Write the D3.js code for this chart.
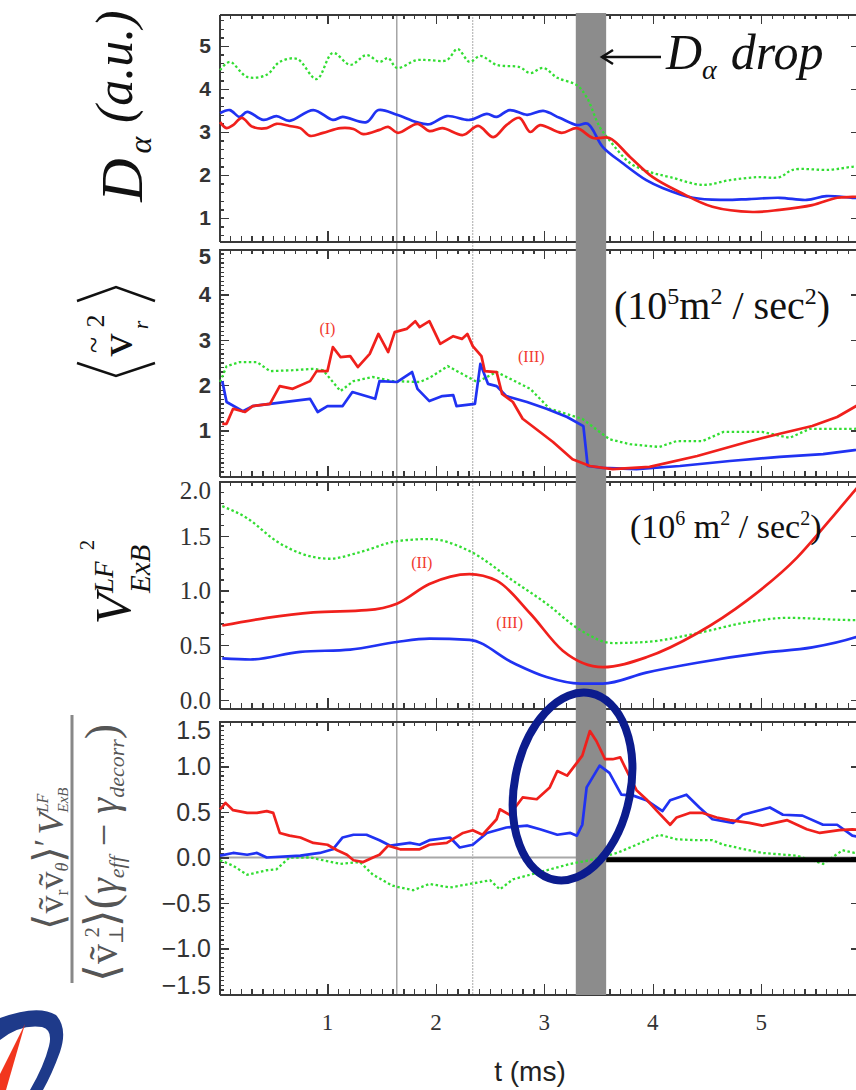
<!DOCTYPE html>
<html lang="en">
<head>
  <meta charset="utf-8">
  <title>D-alpha drop</title>
  <script src="https://cdn.jsdelivr.net/npm/d3@7"></script>
  <style>
    body { margin: 0; background: #fff; }
    .axis path, .axis line { stroke: #3a3a3a; shape-rendering: crispEdges; }
    .axis path { stroke-width: 2; }
    .axis line { stroke-width: 1.3; }
    .red { fill: none; stroke: #f0201c; stroke-width: 2.7; stroke-linejoin: round; }
    .blue { fill: none; stroke: #2032f2; stroke-width: 2.7; stroke-linejoin: round; }
    .green { fill: none; stroke: #33dd33; stroke-width: 2.3; stroke-dasharray: 2.5, 2.5; }
    text.lab-sans { font-family: "Liberation Sans", Arial, sans-serif; }
    text.lab-serif { font-family: "Liberation Serif", "Times New Roman", serif; }
  </style>
</head>
<body>
<script>

// ---- ticks / events ----
var tTicks = [1, 2, 3, 4, 5];
var daTicks = [1, 2, 3, 4, 5];
var v2Ticks = [1, 2, 3, 4, 5];
var vexbTicks = [0, 0.5, 1, 1.5, 2];
var ratioTicks = [-1.5, -1, -0.5, 0, 0.5, 1, 1.5];
var dropBand = [3.29, 3.57];
var markerTimes = [1.64, 2.34];

// ---- panel 1: D alpha ----
var daRed = [[0.01,3.23],[0.07,3.09],[0.13,3.16],[0.21,3.33],[0.31,3.12],[0.44,3.09],[0.53,3.19],[0.65,3.14],[0.75,3.09],[0.84,2.91],[0.96,2.98],[1.12,3.09],[1.24,3.07],[1.33,2.95],[1.48,3.05],[1.56,3.12],[1.65,2.98],[1.83,3.19],[1.94,3.02],[2.06,3.09],[2.25,2.93],[2.39,3.14],[2.53,2.88],[2.65,3.16],[2.77,3.33],[2.87,3.0],[2.96,3.16],[3.16,2.98],[3.30,3.09],[3.45,2.86],[3.60,2.86],[3.79,2.42],[4.00,1.95],[4.25,1.60],[4.55,1.26],[4.92,1.14],[5.17,1.19],[5.47,1.30],[5.70,1.47],[5.84,1.49],[5.92,1.50]];
var daBlue = [[0.01,3.44],[0.10,3.51],[0.19,3.35],[0.26,3.47],[0.41,3.28],[0.53,3.37],[0.65,3.26],[0.87,3.51],[1.05,3.28],[1.14,3.35],[1.36,3.23],[1.47,3.51],[1.64,3.40],[1.82,3.23],[1.94,3.18],[2.10,3.37],[2.31,3.28],[2.47,3.42],[2.56,3.35],[2.68,3.51],[2.84,3.40],[2.99,3.49],[3.14,3.33],[3.30,3.16],[3.40,3.19],[3.54,2.65],[3.72,2.28],[3.94,1.88],[4.09,1.70],[4.37,1.47],[4.65,1.42],[4.89,1.44],[5.17,1.47],[5.42,1.42],[5.60,1.51],[5.84,1.47],[5.92,1.47]];
var daGreen = [[0.01,4.44],[0.10,4.63],[0.26,4.28],[0.44,4.33],[0.56,4.63],[0.72,4.70],[0.90,4.23],[1.05,4.84],[1.21,4.56],[1.36,4.79],[1.48,4.63],[1.56,4.72],[1.64,4.49],[1.82,4.67],[1.94,4.67],[2.10,4.67],[2.20,4.93],[2.31,4.63],[2.41,4.77],[2.56,4.56],[2.77,4.51],[2.87,4.37],[2.99,4.49],[3.12,4.26],[3.30,4.09],[3.39,3.81],[3.51,3.12],[3.60,2.81],[3.79,2.28],[3.97,2.07],[4.16,1.95],[4.46,1.77],[4.71,1.88],[4.96,1.95],[5.17,1.95],[5.29,2.12],[5.63,2.12],[5.84,2.19],[5.92,2.20]];

// ---- panel 2: <v_r^2> ----
var v2Red = [[0.03,1.15],[0.07,1.15],[0.13,1.48],[0.24,1.41],[0.31,1.54],[0.47,1.59],[0.56,1.98],[0.68,1.92],[0.84,2.09],[0.90,2.31],[1.00,2.31],[1.05,2.84],[1.12,2.62],[1.21,2.64],[1.28,2.40],[1.39,2.69],[1.47,3.13],[1.56,2.73],[1.62,3.17],[1.73,3.24],[1.81,3.41],[1.85,3.28],[1.94,3.41],[2.04,2.91],[2.16,3.08],[2.24,3.02],[2.29,3.13],[2.34,2.86],[2.42,2.64],[2.45,2.31],[2.56,2.29],[2.61,1.81],[2.71,1.63],[2.80,1.26],[2.96,0.97],[3.08,0.75],[3.26,0.37],[3.42,0.22],[3.63,0.15],[3.97,0.20],[4.41,0.44],[4.87,0.75],[5.17,0.93],[5.47,1.10],[5.70,1.30],[5.86,1.52],[5.92,1.60]];
var v2Blue = [[0.03,2.09],[0.07,1.63],[0.22,1.43],[0.31,1.54],[0.84,1.70],[0.91,1.41],[1.00,1.54],[1.14,1.54],[1.23,1.85],[1.44,1.70],[1.48,2.09],[1.64,2.07],[1.78,2.29],[1.83,1.92],[1.94,1.65],[2.06,1.76],[2.16,1.78],[2.19,1.54],[2.36,1.59],[2.41,2.47],[2.48,2.03],[2.56,1.98],[2.65,1.76],[2.84,1.63],[3.02,1.48],[3.21,1.30],[3.36,1.10],[3.40,0.22],[3.54,0.18],[3.85,0.15],[4.25,0.22],[4.71,0.33],[5.17,0.42],[5.57,0.48],[5.86,0.57],[5.92,0.58]];
var v2Green = [[0.01,2.07],[0.07,2.42],[0.19,2.51],[0.35,2.51],[0.47,2.31],[0.68,2.33],[0.87,2.36],[0.96,2.33],[1.12,1.87],[1.24,2.09],[1.42,2.18],[1.60,2.09],[1.85,2.07],[1.94,2.16],[2.11,2.42],[2.38,2.07],[2.56,2.29],[2.87,1.92],[3.05,1.48],[3.35,1.26],[3.60,0.81],[3.79,0.70],[4.06,0.64],[4.22,0.77],[4.46,0.77],[4.65,0.97],[5.01,0.97],[5.26,0.84],[5.45,1.04],[5.86,1.04],[5.92,1.05]];

// ---- panel 3: V_ExB^LF^2 ----
var vexbRed = [[0.03,0.68],[0.44,0.75],[0.87,0.80],[1.36,0.82],[1.64,0.88],[1.94,1.06],[2.31,1.15],[2.56,1.09],[2.87,0.79],[3.17,0.45],[3.54,0.30],[3.94,0.39],[4.41,0.61],[4.87,0.91],[5.33,1.30],[5.63,1.64],[5.86,1.91],[5.92,1.98]];
var vexbBlue = [[0.03,0.38],[0.29,0.37],[0.75,0.44],[1.21,0.46],[1.64,0.53],[1.94,0.56],[2.31,0.55],[2.71,0.34],[3.02,0.21],[3.33,0.15],[3.54,0.15],[3.94,0.25],[4.41,0.34],[5.01,0.43],[5.47,0.48],[5.86,0.57],[5.92,0.59]];
var vexbGreen = [[0.03,1.77],[0.26,1.66],[0.53,1.45],[0.75,1.34],[1.02,1.29],[1.30,1.35],[1.64,1.45],[1.94,1.47],[2.31,1.36],[2.71,1.09],[3.02,0.88],[3.33,0.64],[3.63,0.52],[3.94,0.53],[4.41,0.61],[4.87,0.71],[5.24,0.75],[5.86,0.73],[5.92,0.73]];

// ---- panel 4: normalised ratio ----
var ratioRed = [[0.01,0.53],[0.06,0.60],[0.13,0.52],[0.26,0.49],[0.35,0.49],[0.44,0.51],[0.50,0.49],[0.56,0.27],[0.65,0.24],[0.75,0.22],[0.87,0.16],[1.00,0.14],[1.09,0.08],[1.18,0.03],[1.24,-0.03],[1.33,-0.05],[1.42,0.0],[1.48,0.03],[1.56,0.13],[1.67,0.09],[1.85,0.09],[1.94,0.14],[2.10,0.16],[2.25,0.27],[2.34,0.30],[2.43,0.25],[2.56,0.42],[2.59,0.53],[2.68,0.47],[2.80,0.66],[2.93,0.64],[3.05,0.77],[3.12,0.95],[3.21,0.90],[3.30,1.04],[3.35,1.12],[3.42,1.39],[3.48,1.28],[3.56,1.08],[3.63,1.08],[3.70,1.10],[3.79,0.88],[3.85,0.74],[3.94,0.64],[4.04,0.51],[4.16,0.36],[4.22,0.44],[4.34,0.49],[4.46,0.49],[4.59,0.44],[4.71,0.41],[4.89,0.38],[5.01,0.35],[5.24,0.41],[5.42,0.31],[5.54,0.27],[5.72,0.30],[5.84,0.31],[5.92,0.30]];
var ratioBlue = [[0.01,0.02],[0.13,0.05],[0.26,0.03],[0.35,0.05],[0.44,0.0],[0.75,0.02],[0.93,0.05],[1.05,0.09],[1.14,0.22],[1.24,0.25],[1.36,0.25],[1.48,0.19],[1.58,0.13],[1.76,0.16],[1.85,0.14],[1.94,0.19],[2.13,0.22],[2.22,0.11],[2.34,0.14],[2.47,0.27],[2.65,0.33],[2.84,0.35],[2.96,0.31],[3.12,0.25],[3.24,0.27],[3.30,0.24],[3.35,0.36],[3.39,0.77],[3.51,1.01],[3.60,0.93],[3.71,0.69],[3.82,0.68],[3.94,0.63],[4.09,0.51],[4.16,0.63],[4.31,0.69],[4.43,0.55],[4.55,0.42],[4.74,0.38],[4.83,0.47],[5.08,0.55],[5.20,0.47],[5.38,0.46],[5.57,0.36],[5.70,0.36],[5.84,0.24],[5.92,0.22]];
var ratioGreen = [[0.01,-0.03],[0.13,-0.09],[0.26,-0.19],[0.44,-0.14],[0.53,-0.13],[0.65,0.0],[0.84,0.0],[0.96,-0.03],[1.12,-0.07],[1.30,-0.05],[1.42,-0.19],[1.60,-0.31],[1.79,-0.36],[1.94,-0.29],[2.13,-0.33],[2.50,-0.25],[2.59,-0.35],[2.71,-0.24],[2.96,-0.16],[3.24,-0.07],[3.42,-0.03],[3.67,0.05],[3.85,0.14],[4.06,0.25],[4.22,0.20],[4.41,0.19],[4.55,0.19],[4.65,0.14],[5.01,0.05],[5.33,0.02],[5.57,-0.07],[5.75,0.08],[5.86,0.05],[5.92,0.05]];

var w = 856, h = 1090;
var left = 219, right = 861;
var SERIF = '"Liberation Serif", "DejaVu Serif", "Times New Roman", serif';

var xScale = d3.scaleLinear().domain([0, 5.92]).range([left, right]);

var panels = [
  { top: 14, bottom: 241, domain: [0.465, 5.744], ticks: daTicks, minor: 0.2, fmt: d3.format("d"), cls: "lab-sans", size: 21, bold: true,
    red: daRed, blue: daBlue, green: daGreen, curve: d3.curveCatmullRom },
  { top: 249, bottom: 476, domain: [0, 5], ticks: v2Ticks, minor: 0.1, fmt: d3.format("d"), cls: "lab-sans", size: 22, bold: true,
    red: v2Red, blue: v2Blue, green: v2Green, curve: d3.curveLinear },
  { top: 481, bottom: 708, domain: [-0.073, 2.0], ticks: vexbTicks, minor: 0.1, fmt: d3.format(".1f"), cls: "lab-serif", size: 25, bold: false,
    red: vexbRed, blue: vexbBlue, green: vexbGreen, curve: d3.curveMonotoneX },
  { top: 721, bottom: 994, domain: [-1.5, 1.5], ticks: ratioTicks, minor: 0.05, fmt: d3.format(".1f"), cls: "lab-sans", size: 25, bold: false,
    red: ratioRed, blue: ratioBlue, green: ratioGreen, curve: d3.curveLinear }
];

var svg = d3.select("body").append("svg").attr("width", w).attr("height", h);
var defs = svg.append("defs");

panels.forEach(function (p, i) {
  p.y = d3.scaleLinear().domain(p.domain).range([p.bottom, p.top]);
  defs.append("clipPath").attr("id", "clip" + i)
    .append("rect").attr("x", left).attr("y", p.top).attr("width", right - left).attr("height", p.bottom - p.top);
});

// thin vertical marker lines through all panels
svg.selectAll(".marker").data(markerTimes).enter().append("line")
  .attr("x1", function (d) { return xScale(d); }).attr("x2", function (d) { return xScale(d); })
  .attr("y1", panels[0].top).attr("y2", panels[3].bottom)
  .attr("stroke", function (d, i) { return i === 0 ? "#777" : "#aaa"; })
  .attr("stroke-width", 1)
  .attr("stroke-dasharray", function (d, i) { return i === 0 ? null : "2,1"; });

// zero line of the ratio panel
var p4 = panels[3];
svg.append("line").attr("x1", left).attr("x2", right)
  .attr("y1", p4.y(0)).attr("y2", p4.y(0))
  .attr("stroke", "#a8a8a8").attr("stroke-width", 2);

function minorVals(d0, d1, step) {
  var out = [];
  for (var k = Math.ceil(d0 / step - 1e-9); k * step <= d1 + 1e-9; k++) out.push(+(k * step).toFixed(3));
  return out;
}
var tMinor = minorVals(0.1, 5.9, 0.1);

// frames and ticks (labels written separately below)
panels.forEach(function (p, i) {
  var g = svg.append("g");
  var yMinor = minorVals(p.domain[0], p.domain[1], p.minor);
  g.append("g").attr("class", "axis").attr("transform", "translate(" + left + ",0)")
    .call(d3.axisLeft(p.y).tickValues(yMinor).tickSize(-5).tickSizeOuter(0).tickFormat(""));
  g.append("g").attr("class", "axis").attr("transform", "translate(" + right + ",0)")
    .call(d3.axisRight(p.y).tickValues(yMinor).tickSize(-5).tickSizeOuter(0).tickFormat(""));
  g.append("g").attr("class", "axis").attr("transform", "translate(0," + p.bottom + ")")
    .call(d3.axisBottom(xScale).tickValues(tMinor).tickSize(-5).tickSizeOuter(0).tickFormat(""));
  g.append("g").attr("class", "axis").attr("transform", "translate(0," + p.top + ")")
    .call(d3.axisTop(xScale).tickValues(tMinor).tickSize(-5).tickSizeOuter(0).tickFormat(""));
  g.append("g").attr("class", "axis").attr("transform", "translate(" + left + ",0)")
    .call(d3.axisLeft(p.y).tickValues(p.ticks).tickSize(-10).tickSizeOuter(0).tickFormat(""));
  g.append("g").attr("class", "axis").attr("transform", "translate(" + right + ",0)")
    .call(d3.axisRight(p.y).tickValues(p.ticks).tickSize(-10).tickSizeOuter(0).tickFormat(""));
  g.append("g").attr("class", "axis").attr("transform", "translate(0," + p.top + ")")
    .call(d3.axisTop(xScale).tickValues(tTicks).tickSize(-10).tickSizeOuter(0).tickFormat(""));
  g.append("g").attr("class", "axis").attr("transform", "translate(0," + p.bottom + ")")
    .call(d3.axisBottom(xScale).tickValues(tTicks).tickSize(-10).tickSizeOuter(0).tickFormat(""));

  // y tick labels
  svg.append("g").selectAll("text").data(p.ticks).enter().append("text")
    .attr("class", p.cls)
    .attr("x", left - 8)
    .attr("y", function (d) { return p.y(d); })
    .attr("dy", function (d) {
      var yy = p.y(d);
      if (yy - p.top < 6) return "0.7em";
      if (p.bottom - yy < 6) return "0em";
      return "0.35em";
    })
    .attr("text-anchor", "end")
    .attr("font-size", p.size)
    .attr("font-weight", p.bold ? "bold" : "normal")
    .attr("fill", "#333")
    .text(p.fmt);
});

// x tick labels
svg.append("g").selectAll("text").data(tTicks).enter().append("text")
  .attr("class", "lab-serif")
  .attr("x", function (d) { return xScale(d); })
  .attr("y", p4.bottom + 36)
  .attr("text-anchor", "middle")
  .attr("font-size", 23)
  .attr("fill", "#333")
  .text(d3.format("d"));

// D-alpha drop band
svg.append("rect")
  .attr("x", xScale(dropBand[0])).attr("width", xScale(dropBand[1]) - xScale(dropBand[0]))
  .attr("y", panels[0].top - 1).attr("height", panels[3].bottom - panels[0].top + 2)
  .attr("fill", "#8c8c8c");

// series
panels.forEach(function (p, i) {
  var line = d3.line().curve(p.curve)
    .x(function (d) { return xScale(d[0]); })
    .y(function (d) { return p.y(d[1]); });
  var g = svg.append("g").attr("clip-path", "url(#clip" + i + ")");
  g.append("path").datum(p.green).attr("class", "green").attr("d", line);
  g.append("path").datum(p.blue).attr("class", "blue").attr("d", line);
  g.append("path").datum(p.red).attr("class", "red").attr("d", line);
});

// thick black segment on the zero line after the drop
svg.append("line")
  .attr("x1", xScale(3.57)).attr("x2", right)
  .attr("y1", p4.y(-0.025)).attr("y2", p4.y(-0.025))
  .attr("stroke", "#000").attr("stroke-width", 5);

// red phase labels
var phase = [
  { text: "(I)", t: 1.0, v: 3.24, p: 1 },
  { text: "(III)", t: 2.88, v: 2.62, p: 1 },
  { text: "(II)", t: 1.87, v: 1.25, p: 2 },
  { text: "(III)", t: 2.68, v: 0.70, p: 2 }
];
svg.selectAll(".phase").data(phase).enter().append("text")
  .attr("x", function (d) { return xScale(d.t); })
  .attr("y", function (d) { return panels[d.p].y(d.v) + 5; })
  .attr("text-anchor", "middle")
  .attr("font-family", SERIF).attr("font-size", 16).attr("fill", "#f23a30")
  .text(function (d) { return d.text; });

// "<- D_alpha drop"
var drop = svg.append("g").attr("font-family", SERIF).attr("font-style", "italic").attr("fill", "#111");
drop.append("line").attr("x1", 602).attr("x2", 661).attr("y1", 57).attr("y2", 57)
  .attr("stroke", "#111").attr("stroke-width", 2.5);
drop.append("path").attr("d", "M613,50 L602,57 L613,64").attr("fill", "none")
  .attr("stroke", "#111").attr("stroke-width", 2.5);
var dt = drop.append("text").attr("x", 666).attr("y", 69).attr("font-size", 50);
dt.append("tspan").text("D");
dt.append("tspan").attr("font-size", 28).attr("dy", 10).text("α");
dt.append("tspan").attr("dx", 14).attr("dy", -10).text("drop");

// unit labels
function units(x, y, size, exp, gap) {
  var t = svg.append("text").attr("x", x).attr("y", y)
    .attr("font-family", SERIF).attr("font-size", size).attr("fill", "#111");
  var s = Math.round(size * 0.6), up = -Math.round(size * 0.38);
  t.append("tspan").text("(10");
  t.append("tspan").attr("font-size", s).attr("dy", up).text(exp);
  t.append("tspan").attr("dy", -up).text(gap + "m");
  t.append("tspan").attr("font-size", s).attr("dy", up).text("2");
  t.append("tspan").attr("dy", -up).text(" / sec");
  t.append("tspan").attr("font-size", s).attr("dy", up).text("2");
  t.append("tspan").attr("dy", -up).text(")");
}
units(614, 319, 40, "5", "");
units(630, 538, 34, "6", " ");

// ---- y titles ----
var t1 = svg.append("g").attr("transform", "translate(118,107) rotate(-90)")
  .attr("font-family", SERIF).attr("font-style", "italic").attr("fill", "#111");
t1.append("text").attr("x", -73).attr("y", 24).attr("text-anchor", "middle").attr("font-size", 60).text("D");
t1.append("text").attr("x", -38).attr("y", 33).attr("text-anchor", "middle").attr("font-size", 32).text("α");
t1.append("text").attr("x", -16).attr("y", 14).attr("font-size", 52).text("(a.u.)");

var t2 = svg.append("g").attr("transform", "translate(115,332) rotate(-90)")
  .attr("font-family", SERIF).attr("fill", "#111");
t2.append("path").attr("d", "M-31,-38 L-44,1 L-31,40 M31,-38 L45,1 L31,40")
  .attr("fill", "none").attr("stroke", "#111").attr("stroke-width", 2.4);
t2.append("text").attr("x", -13).attr("y", 17).attr("text-anchor", "middle").attr("font-size", 46).text("v");
t2.append("text").attr("x", -13).attr("y", -11).attr("text-anchor", "middle").attr("font-size", 30).text("~");
t2.append("text").attr("x", 11).attr("y", -11).attr("text-anchor", "middle").attr("font-size", 26).text("2");
t2.append("text").attr("x", 7).attr("y", 33).attr("text-anchor", "middle").attr("font-size", 22).attr("font-style", "italic").text("r");

var t3 = svg.append("g").attr("transform", "translate(115,580) rotate(-90)")
  .attr("font-family", SERIF).attr("font-style", "italic").attr("fill", "#111");
t3.append("text").attr("x", -29).attr("y", 15).attr("text-anchor", "middle").attr("font-size", 50).text("V");
t3.append("text").attr("x", -13).attr("y", 35).attr("font-size", 29).text("ExB");
t3.append("text").attr("x", -13).attr("y", -2).attr("font-size", 27).text("LF");
t3.append("text").attr("x", 35).attr("y", -21).attr("text-anchor", "middle").attr("font-size", 20).attr("font-style", "normal").text("2");

var t4 = svg.append("g").attr("transform", "translate(72,850) rotate(-90)")
  .attr("font-family", SERIF).attr("fill", "#555");
t4.append("line").attr("x1", -133).attr("x2", 135).attr("y1", 0).attr("y2", 0)
  .attr("stroke", "#888").attr("stroke-width", 3);
var num = t4.append("text").attr("x", -80).attr("y", -9).attr("font-size", 36);
num.append("tspan").attr("font-size", 42).text("⟨");
num.append("tspan").text("ṽ");
num.append("tspan").attr("font-size", 18).attr("dy", 5).text("r");
num.append("tspan").attr("dy", -5).text("ṽ");
num.append("tspan").attr("font-size", 18).attr("dy", 5).attr("font-style", "italic").text("θ");
num.append("tspan").attr("font-size", 42).attr("dy", -5).text("⟩");
num.append("tspan").attr("dy", -4).text("′");
num.append("tspan").attr("dx", 4).attr("dy", 4).attr("font-style", "italic").text("V");
num.append("tspan").attr("font-size", 15).attr("dy", 5).attr("font-style", "italic").text("ExB");
num.append("tspan").attr("font-size", 16).attr("dx", -25).attr("dy", -20).attr("font-style", "italic").text("LF");

var den = t4.append("text").attr("x", -132).attr("y", 45).attr("font-size", 40);
den.append("tspan").attr("font-size", 46).text("⟨");
den.append("tspan").text("ṽ");
den.append("tspan").attr("font-size", 20).attr("dy", 6).text("⊥");
den.append("tspan").attr("font-size", 20).attr("dx", -12).attr("dy", -24).text("2");
den.append("tspan").attr("font-size", 46).attr("dy", 18).text("⟩");
den.append("tspan").attr("font-size", 46).text("(");
den.append("tspan").attr("font-style", "italic").text("γ");
den.append("tspan").attr("font-size", 22).attr("dy", 7).attr("font-style", "italic").text("eff");
den.append("tspan").attr("dy", -7).text(" − ");
den.append("tspan").attr("font-style", "italic").text("γ");
den.append("tspan").attr("font-size", 22).attr("dy", 7).attr("font-style", "italic").text("decorr");
den.append("tspan").attr("font-size", 46).attr("dy", -7).text(")");

// x title
svg.append("text").attr("x", 530).attr("y", 1081).attr("text-anchor", "middle")
  .attr("font-family", '"Liberation Sans Narrow", "Liberation Sans", Arial, sans-serif')
  .attr("font-size", 28).attr("fill", "#222").text("t (ms)");

// highlight ellipse
svg.append("ellipse")
  .attr("transform", "translate(" + xScale(3.26) + "," + p4.y(0.78) + ") rotate(11)")
  .attr("rx", 58).attr("ry", 95)
  .attr("fill", "none").attr("stroke", "#0c1c8e").attr("stroke-width", 8);

// logo corner
svg.append("path")
  .attr("d", "M0,1018 Q38,1004 56,1015 Q68,1028 60,1052 Q52,1074 43,1090 L30,1090 Q44,1066 49,1046 Q53,1030 42,1027 Q20,1024 0,1040 Z")
  .attr("fill", "#1e3a8a");
svg.append("path").attr("d", "M25,1024 L6,1090 L0,1090 L0,1074 Z").attr("fill", "#f2361e");

</script>
</body>
</html>
